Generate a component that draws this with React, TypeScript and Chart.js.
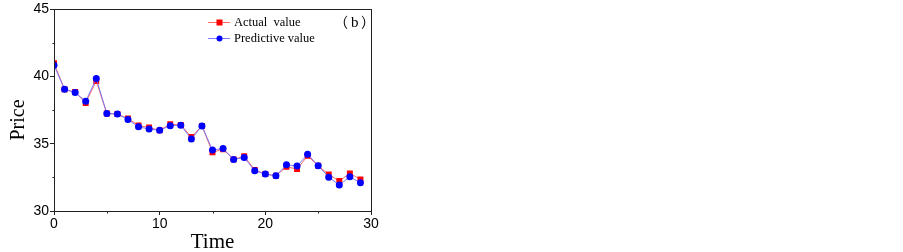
import React, { useEffect, useRef } from "react";
import { Chart, registerables } from "chart.js";

Chart.register(...registerables);

const timeSteps = [0, 1, 2, 3, 4, 5, 6, 7, 8, 9, 10, 11, 12, 13, 14, 15, 16, 17, 18, 19, 20, 21, 22, 23, 24, 25, 26, 27, 28, 29];
const actualValues = [41.0, 39.05, 38.85, 38.04, 39.67, 37.25, 37.22, 36.88, 36.36, 36.21, 36.0, 36.46, 36.4, 35.5, 36.33, 34.36, 34.6, 33.84, 34.08, 33.05, 32.75, 32.62, 33.29, 33.12, 34.1, 33.36, 32.72, 32.23, 32.8, 32.35];
const predictiveValues = [40.84, 39.06, 38.81, 38.17, 39.85, 37.25, 37.22, 36.8, 36.26, 36.1, 36.0, 36.35, 36.38, 35.35, 36.33, 34.53, 34.65, 33.84, 33.98, 32.99, 32.75, 32.62, 33.44, 33.34, 34.23, 33.36, 32.52, 31.93, 32.55, 32.1];
const xMinorTicks = [5, 15, 25];
const yMinorTicks = [32.5, 37.5, 42.5];
const seriesLabels = ["Actual  value", "Predictive value"];
const xTitle = "Time";
const yTitle = "Price";
const panelTag = ["（", "b", "）"];

const AXIS_COLOR = "#222";

const overlayPlugin = {
  id: "overlay",
  afterDraw(chart: any) {
    const { ctx, chartArea } = chart;
    const { left, right, top, bottom } = chartArea;
    const xs = chart.scales.x;
    const ys = chart.scales.y;
    ctx.save();
    // frame
    ctx.strokeStyle = AXIS_COLOR;
    ctx.lineWidth = 1;
    ctx.strokeRect(Math.round(left) + 0.5, Math.round(top) + 0.5, Math.round(right - left), Math.round(bottom - top));
    // minor ticks
    ctx.beginPath();
    xMinorTicks.forEach((v) => {
      const px = Math.round(xs.getPixelForValue(v)) + 0.5;
      ctx.moveTo(px, Math.round(bottom) + 0.5);
      ctx.lineTo(px, Math.round(bottom) + 2.5);
    });
    yMinorTicks.forEach((v) => {
      const py = Math.round(ys.getPixelForValue(v)) + 0.5;
      ctx.moveTo(Math.round(left) + 0.5, py);
      ctx.lineTo(Math.round(left) - 1.5, py);
    });
    ctx.stroke();

    // axis titles
    ctx.fillStyle = "#000";
    ctx.font = '21px "Liberation Serif", "Times New Roman", serif';
    ctx.textAlign = "center";
    ctx.textBaseline = "alphabetic";
    ctx.fillText(xTitle, (left + right) / 2, 248);
    ctx.save();
    ctx.translate(24, 120);
    ctx.rotate(-Math.PI / 2);
    ctx.font = '20px "Liberation Serif", "Times New Roman", serif';
    ctx.fillText(yTitle, 0, 0);
    ctx.restore();

    // legend
    const rows = [
      { y: 22, line: "rgba(255,90,90,0.9)", fill: "#ff0000", shape: "rect" },
      { y: 38, line: "rgba(110,110,255,0.9)", fill: "#0000ff", shape: "circle" },
    ];
    ctx.font = '12.5px "Liberation Serif", "Times New Roman", serif';
    ctx.textAlign = "left";
    ctx.textBaseline = "middle";
    rows.forEach((r, i) => {
      ctx.strokeStyle = r.line;
      ctx.beginPath();
      ctx.moveTo(208, r.y + 0.5);
      ctx.lineTo(230, r.y + 0.5);
      ctx.stroke();
      ctx.fillStyle = r.fill;
      if (r.shape === "rect") {
        ctx.fillRect(216.5, r.y - 2.5, 6, 6);
      } else {
        ctx.beginPath();
        ctx.arc(219.5, r.y + 0.5, 3, 0, Math.PI * 2);
        ctx.fill();
      }
      ctx.fillStyle = "#000";
      ctx.fillText(seriesLabels[i], 234, r.y + 1);
    });
    // panel tag (b) with full-width parentheses
    ctx.textBaseline = "alphabetic";
    const cjk = '14px "Noto Sans CJK SC", "Noto Sans CJK JP", sans-serif';
    const serif = '15px "Liberation Serif", "Times New Roman", serif';
    const by = 27;
    ctx.font = cjk;
    ctx.textAlign = "left";
    ctx.fillText(panelTag[0], 334, by);
    ctx.font = serif;
    ctx.fillText(panelTag[1], 351, by);
    ctx.font = cjk;
    ctx.fillText(panelTag[2], 361, by);
    ctx.restore();
  },
};

export default function App() {
  const ref = useRef<HTMLCanvasElement | null>(null);
  useEffect(() => {
    document.body.style.margin = "0";
    const canvas = ref.current;
    if (!canvas) return;
    const chart = new Chart(canvas, {
      type: "line",
      data: {
        datasets: [
          {
            label: seriesLabels[1],
            data: timeSteps.map((t, i) => ({ x: t, y: predictiveValues[i] })),
            borderColor: "rgba(110,110,255,0.9)",
            backgroundColor: "#0000ff",
            borderWidth: 1,
            pointStyle: "circle",
            pointRadius: 3.5,
            pointBorderWidth: 0,
            order: 1,
          },
          {
            label: seriesLabels[0],
            data: timeSteps.map((t, i) => ({ x: t, y: actualValues[i] })),
            borderColor: "rgba(255,90,90,0.9)",
            backgroundColor: "#ff0000",
            borderWidth: 1,
            pointStyle: "rect",
            pointRadius: 4.2,
            pointBorderWidth: 0,
            order: 2,
          },
        ],
      },
      options: {
        responsive: false,
        animation: false,
        events: [],
        layout: { padding: { left: 0, top: 9, right: 532, bottom: 0 } },
        plugins: { legend: { display: false }, tooltip: { enabled: false } },
        scales: {
          x: {
            type: "linear",
            min: 0,
            max: 30,
            afterFit: (s: any) => {
              s.height = 41;
            },
            border: { display: false },
            grid: { drawOnChartArea: false, drawTicks: true, tickLength: 4, tickColor: AXIS_COLOR, color: AXIS_COLOR },
            ticks: {
              stepSize: 10,
              maxRotation: 0,
              padding: 1,
              color: "#000",
              font: { family: '"Liberation Sans", Arial, sans-serif', size: 14 },
            },
          },
          y: {
            type: "linear",
            min: 30,
            max: 45,
            afterFit: (s: any) => {
              s.width = 54;
            },
            border: { display: false },
            grid: { drawOnChartArea: false, drawTicks: true, tickLength: 4, tickColor: AXIS_COLOR, color: AXIS_COLOR },
            ticks: {
              stepSize: 5,
              padding: 1,
              color: "#000",
              font: { family: '"Liberation Sans", Arial, sans-serif', size: 14 },
            },
          },
        },
      },
      plugins: [overlayPlugin],
    });
    return () => chart.destroy();
  }, []);
  return <canvas ref={ref} width={903} height={252} style={{ display: "block", width: 903, height: 252 }} />;
}
